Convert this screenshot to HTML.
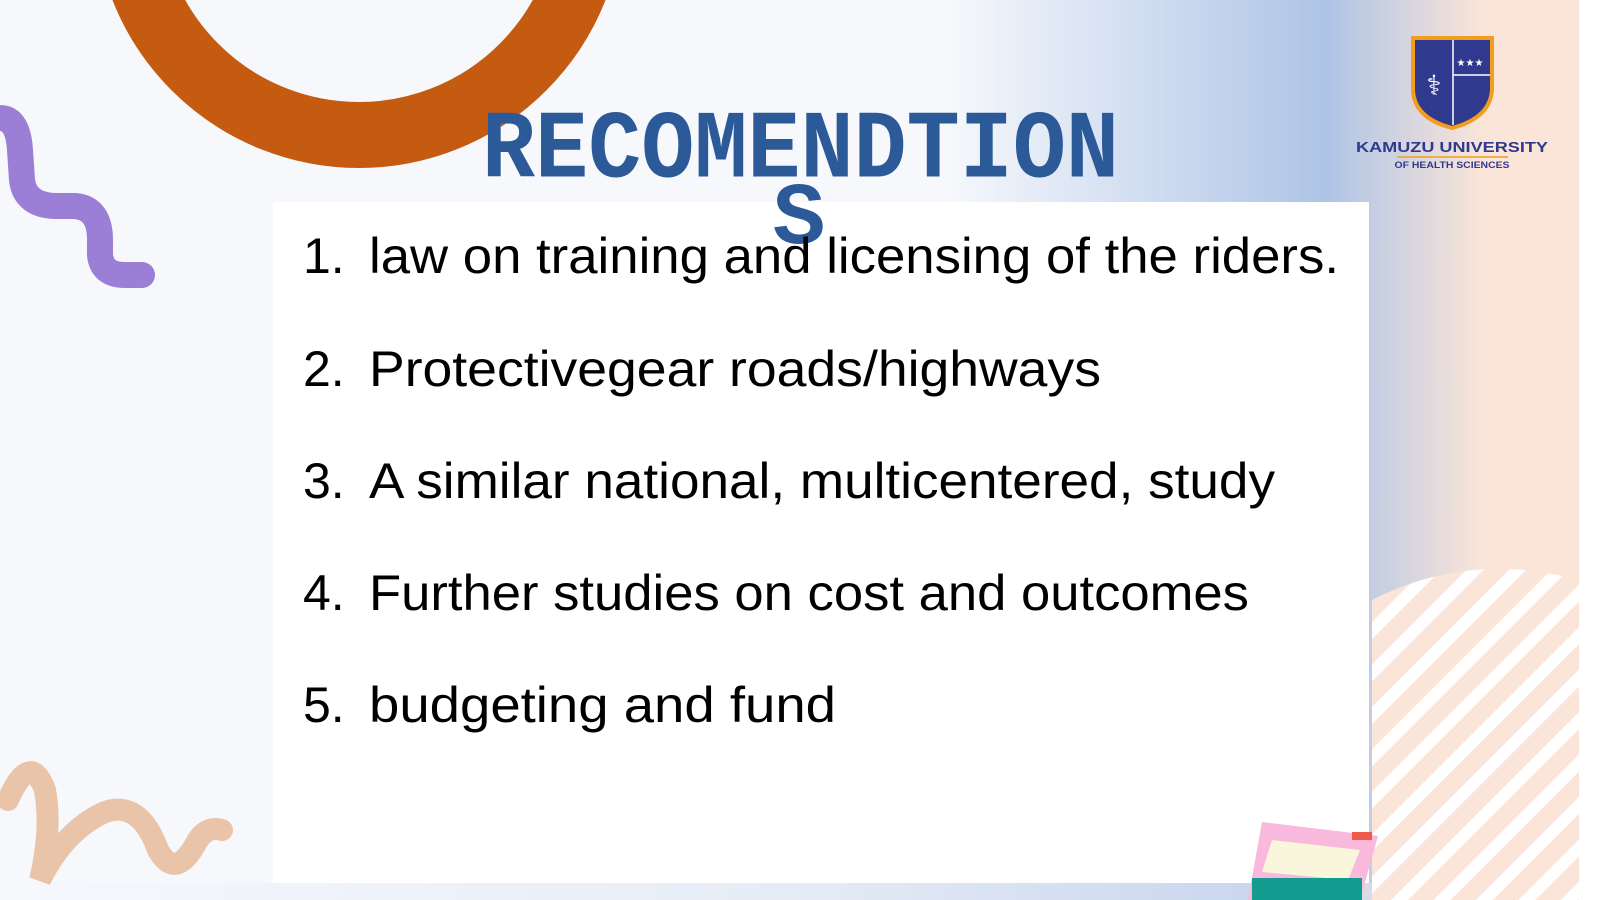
<!DOCTYPE html>
<html><head><meta charset="utf-8"><style>
html,body{margin:0;padding:0;background:#fff;}
svg{display:block;}
</style></head><body>
<svg width="1600" height="900" viewBox="0 0 1600 900" xmlns="http://www.w3.org/2000/svg">
<defs>
<linearGradient id="bgGrad" x1="0" y1="0" x2="1" y2="0">
<stop offset="0" stop-color="#f6f8fc"/>
<stop offset="0.6" stop-color="#f6f8fc"/>
<stop offset="0.84" stop-color="#aec4e6"/>
<stop offset="0.94" stop-color="#fbe5d8"/>
<stop offset="1" stop-color="#fbe5d8"/>
</linearGradient>
<linearGradient id="bandGrad" x1="0" y1="0" x2="1" y2="0">
<stop offset="0" stop-color="#f6f8fc"/>
<stop offset="0.5" stop-color="#e6ecf6"/>
<stop offset="0.8" stop-color="#c9d6ee"/>
<stop offset="1" stop-color="#fbe5d8"/>
</linearGradient>
<pattern id="stripes" patternUnits="userSpaceOnUse" width="30" height="30" patternTransform="rotate(45)">
<rect width="30" height="30" fill="#fbe5d8"/>
<rect x="0" y="0" width="12" height="30" fill="#ffffff"/>
</pattern>
<clipPath id="stripeClip"><path d="M1372 900 L1372 600 Q1470 550 1579 580 L1579 900 Z"/></clipPath>
</defs>
<rect x="0" y="0" width="1579" height="900" fill="url(#bgGrad)"/>
<rect x="1579" y="0" width="21" height="900" fill="#ffffff"/>
<rect x="0" y="883" width="1579" height="17" fill="url(#bandGrad)"/>

<g clip-path="url(#stripeClip)">
<rect x="1372" y="540" width="207" height="360" fill="url(#stripes)"/>
</g>

<circle cx="359" cy="-97" r="232" fill="none" stroke="#c55b11" stroke-width="66"/>

<path d="M0 118 Q18 118 20 150 L22 180 Q25 205 55 206 L75 206 Q100 208 100 240 L100 255 Q102 275 125 275 L142 275" fill="none" stroke="#9b7fd6" stroke-width="26" stroke-linecap="round"/>

<path d="M8 800 Q30 750 45 790 Q52 830 40 880 Q65 830 105 812 Q140 800 158 850 Q175 880 195 845 Q205 825 222 830" fill="none" stroke="#e9c4a8" stroke-width="22" stroke-linecap="round"/>

<rect x="273" y="202" width="1096" height="681" fill="#ffffff"/>

<g>
<path d="M1262 822 L1378 836 L1360 900 L1248 900 Z" fill="#f8b9dc"/>
<path d="M1272 840 L1360 850 L1348 880 L1262 872 Z" fill="#faf6dc"/>
<rect x="1252" y="878" width="110" height="22" fill="#129c8f"/>
<rect x="1352" y="832" width="20" height="8" fill="#ee5a4b"/>
</g>

<g>
<path d="M1413 38 L1492 38 L1492 90 Q1490 118 1452 128 Q1414 118 1413 90 Z" fill="#2f3a8f" stroke="#f29d1e" stroke-width="4"/>
<line x1="1453" y1="40" x2="1453" y2="125" stroke="#ffffff" stroke-width="1.5"/>
<line x1="1453" y1="75" x2="1490" y2="75" stroke="#ffffff" stroke-width="1.5"/>
<text x="1470" y="66" font-family="DejaVu Sans" font-size="10" fill="#fff" text-anchor="middle">★★★</text>
<text x="1434" y="95" font-family="DejaVu Sans" font-size="28" fill="#fff" text-anchor="middle">⚕</text>
<text x="1452" y="152" font-family="Liberation Sans" font-weight="bold" font-size="15" fill="#2f3a8f" text-anchor="middle" textLength="192" lengthAdjust="spacingAndGlyphs">KAMUZU UNIVERSITY</text>
<line x1="1397" y1="157" x2="1508" y2="157" stroke="#f29d1e" stroke-width="1.5"/>
<text x="1452" y="168" font-family="Liberation Sans" font-weight="bold" font-size="9" fill="#2f3a8f" text-anchor="middle" textLength="115" lengthAdjust="spacingAndGlyphs">OF HEALTH SCIENCES</text>
</g>

<g font-family="Liberation Mono" font-weight="bold" fill="#2c5a98">
<text x="482" y="176" font-size="88" textLength="637" lengthAdjust="spacingAndGlyphs" transform="translate(0,-17) scale(1,1.1)">RECOMENDTION</text>
<text x="799" y="243" font-size="88" text-anchor="middle">S</text>
</g>

<g font-family="Liberation Sans" font-size="50" fill="#000000">
<text x="303" y="273">1.</text>
<text x="369" y="273" textLength="970" lengthAdjust="spacingAndGlyphs">law on training and licensing of the riders.</text>
<text x="303" y="386">2.</text>
<text x="369" y="386" textLength="732" lengthAdjust="spacingAndGlyphs">Protectivegear roads/highways</text>
<text x="303" y="498">3.</text>
<text x="369" y="498" textLength="906" lengthAdjust="spacingAndGlyphs">A similar national, multicentered, study</text>
<text x="303" y="610">4.</text>
<text x="369" y="610" textLength="880" lengthAdjust="spacingAndGlyphs">Further studies on cost and outcomes</text>
<text x="303" y="722">5.</text>
<text x="369" y="722" textLength="467" lengthAdjust="spacingAndGlyphs">budgeting and fund</text>
</g>
</svg>
</body></html>
